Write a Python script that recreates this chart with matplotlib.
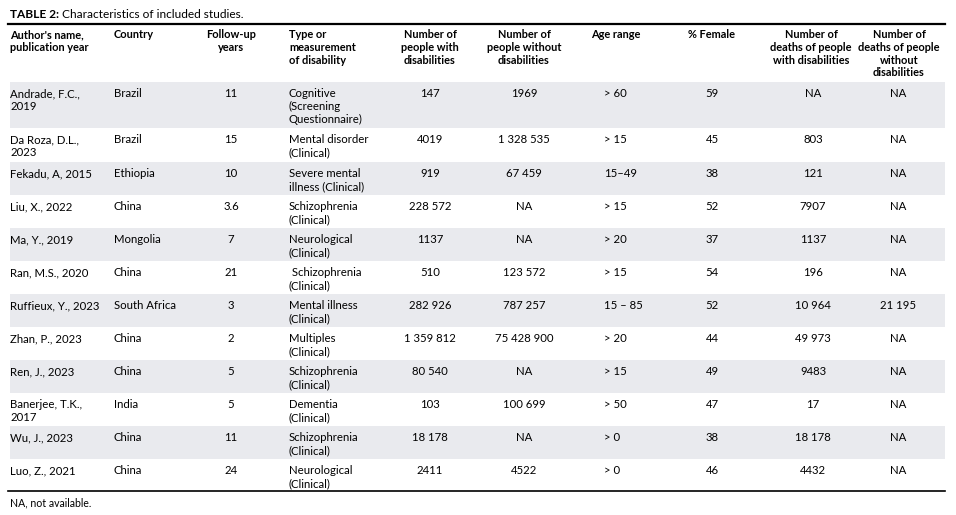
import matplotlib.pyplot as plt
from matplotlib.patches import Rectangle

plt.rcParams['font.family'] = ['Lato', 'DejaVu Sans']

# ---------- Data ----------
headers = ["Author's name,\npublication year", "Country", "Follow-up\nyears",
           "Type or\nmeasurement\nof disability", "Number of\npeople with\ndisabilities",
           "Number of\npeople without\ndisabilities", "Age range", "% Female",
           "Number of\ndeaths of people\nwith disabilities",
           "Number of\ndeaths of people\nwithout\ndisabilities"]

authors = ["Andrade, F.C.,\n2019", "Da Roza, D.L.,\n2023", "Fekadu, A, 2015", "Liu, X., 2022",
           "Ma, Y., 2019", "Ran, M.S., 2020", "Ruffieux, Y., 2023", "Zhan, P., 2023",
           "Ren, J., 2023", "Banerjee, T.K.,\n2017", "Wu, J., 2023", "Luo, Z., 2021"]
countries = ["Brazil", "Brazil", "Ethiopia", "China", "Mongolia", "China", "South Africa",
             "China", "China", "India", "China", "China"]
follow_up = ["11", "15", "10", "3.6", "7", "21", "3", "2", "5", "5", "11", "24"]
disability = ["Cognitive\n(Screening\nQuestionnaire)", "Mental disorder\n(Clinical)",
              "Severe mental\nillness (Clinical)", "Schizophrenia\n(Clinical)",
              "Neurological\n(Clinical)", " Schizophrenia\n(Clinical)", "Mental illness\n(Clinical)",
              "Multiples\n(Clinical)", "Schizophrenia\n(Clinical)", "Dementia\n(Clinical)",
              "Schizophrenia\n(Clinical)", "Neurological\n(Clinical)"]
n_with = ["147", "4019", "919", "228 572", "1137", "510", "282 926", "1 359 812",
          "80 540", "103", "18 178", "2411"]
n_without = ["1969", "1 328 535", "67 459", "NA", "NA", "123 572", "787 257", "75 428 900",
             "NA", "100 699", "NA", "4522"]
age_range = ["> 60", "> 15", "15\u201349", "> 15", "> 20", "> 15", "15 \u2013 85", "> 20",
             "> 15", "> 50", "> 0", "> 0"]
female = ["59", "45", "38", "52", "37", "54", "52", "44", "49", "47", "38", "46"]
deaths_with = ["NA", "803", "121", "7907", "1137", "196", "10 964", "49 973", "9483",
               "17", "18 178", "4432"]
deaths_without = ["NA", "NA", "NA", "NA", "NA", "NA", "21 195", "NA", "NA", "NA", "NA", "NA"]

columns = [authors, countries, follow_up, disability, n_with, n_without,
           age_range, female, deaths_with, deaths_without]

# ---------- Layout (pixels) ----------
col_x = [10, 114, 231, 289, 430, 524, 591, 712, 811, 899]
col_ha = ['left', 'left', 'center', 'left', 'center', 'center', 'left', 'center', 'center', 'center']
cell_x = [10, 114, 231, 289, 430, 524, 604, 712, 813, 898]
cell_ha = ['left', 'left', 'center', 'left', 'center', 'center', 'left', 'center', 'center', 'center']
row_top = [82, 128, 162, 195, 228, 261, 294, 327, 360, 393, 426, 459]
row_bottom = 491
fs = 8.2

fig = plt.figure(figsize=(9.56, 5.15), dpi=100)
ax = fig.add_axes([0, 0, 1, 1])
ax.set_xlim(0, 956)
ax.set_ylim(515, 0)
ax.axis('off')

ax.text(10, 14, "TABLE 2:", fontsize=8.6, fontweight='bold', va='center', ha='left')
ax.text(62, 14, "Characteristics of included studies.", fontsize=8.6, va='center', ha='left')
ax.plot([8, 945], [23.5, 23.5], color='black', lw=1.6)

for x, ha, h in zip(col_x, col_ha, headers):
    ax.text(x, 29, h, fontsize=7.9, fontweight='bold', ha=ha, va='top',
            multialignment='left' if ha == 'left' else 'center', linespacing=1.2)

for i, top in enumerate(row_top):
    bottom = row_top[i + 1] if i + 1 < len(row_top) else row_bottom
    if i % 2 == 0:
        ax.add_patch(Rectangle((10, top), 935, bottom - top, color='#e9eaee', lw=0))
    for j, col in enumerate(columns):
        ax.text(cell_x[j], top + 6, col[i], fontsize=fs, ha=cell_ha[j], va='top',
                multialignment='left' if cell_ha[j] == 'left' else 'center',
                linespacing=1.2)

ax.plot([8, 945], [row_bottom, row_bottom], color='black', lw=1.2)
ax.text(10, 503, "NA, not available.", fontsize=7.6, va='center', ha='left')

fig.savefig('out.png', dpi=100)
